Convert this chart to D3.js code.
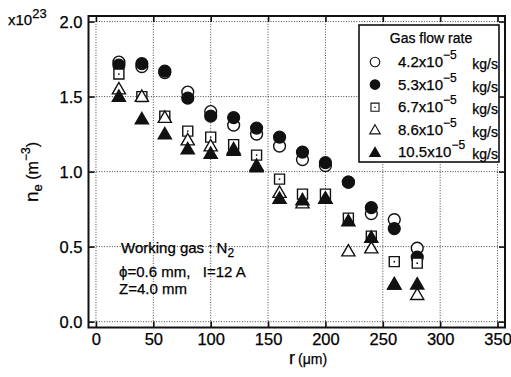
<!DOCTYPE html>
<html><head><meta charset="utf-8">
<script src="https://cdn.jsdelivr.net/npm/d3@7"></script>
<style>body{margin:0;background:#fff}svg{display:block}text{font-family:"Liberation Sans",Arial,sans-serif;fill:#000;stroke:#000;stroke-width:0.25px}</style>
</head><body>
<svg id="c" width="511" height="377"></svg>
<script>
const radius = [20,40,60,80,100,120,140,160,180,200,220,240,260,280];
const s42  = [1.73,1.70,1.66,1.53,1.40,1.31,1.25,1.17,1.08,1.04,0.93,0.72,0.68,0.49];
const s53  = [1.71,1.72,1.67,1.49,1.37,1.36,1.29,1.23,1.13,1.06,0.93,0.76,0.62,0.43];
const s67  = [1.65,1.50,1.37,1.27,1.23,1.18,1.11,0.95,0.85,0.85,0.69,0.57,0.40,0.39];
const s86  = [1.55,1.50,1.36,1.21,1.17,1.15,1.04,0.86,0.79,0.82,0.47,0.49,0.25,0.18];
const s105 = [1.50,1.35,1.25,1.15,1.12,1.14,1.03,0.82,0.81,0.82,0.67,0.56,0.25,0.25];
const seriesNames = ["4.2","5.3","6.7","8.6","10.5"];
const xTicks = [0,50,100,150,200,250,300,350];
const yTicks = [0.0,0.5,1.0,1.5,2.0];

const svg = d3.select("#c");
const L=88.5, R=505, T=16, B=327.5;
const x = d3.scaleLinear().domain([-6.5,356.5]).range([L,R]);
const y = d3.scaleLinear().domain([-0.039,2.037]).range([B,T]);

// grid
const g = svg.append("g");
g.selectAll(".gx").data(xTicks).join("line")
  .attr("x1",d=>x(d)).attr("x2",d=>x(d)).attr("y1",T).attr("y2",B)
  .attr("stroke","#333").attr("stroke-width",0.9).attr("stroke-dasharray","1,1.6");
g.selectAll(".gy").data(yTicks).join("line")
  .attr("y1",d=>y(d)).attr("y2",d=>y(d)).attr("x1",L).attr("x2",R)
  .attr("stroke","#333").attr("stroke-width",0.9).attr("stroke-dasharray","1,1.6");

// axes with inward ticks
const ax = d3.axisBottom(x).tickValues(xTicks).tickSize(-6).tickFormat(d=>d);
const ay = d3.axisLeft(y).tickValues(yTicks).tickSize(-6).tickFormat(d3.format(".1f"));
const gb = svg.append("g").attr("transform",`translate(0,${B})`).call(ax);
const gt = svg.append("g").attr("transform",`translate(0,${T})`).call(d3.axisTop(x).tickValues(xTicks).tickSize(-6).tickFormat(""));
const gl = svg.append("g").attr("transform",`translate(${L},0)`).call(ay);
const gr = svg.append("g").attr("transform",`translate(${R},0)`).call(d3.axisRight(y).tickValues(yTicks).tickSize(-6).tickFormat(""));
[gb,gt,gl,gr].forEach(a=>{a.select(".domain").remove();a.selectAll(".tick line").attr("stroke","#111").attr("stroke-width",1.6);});
gb.selectAll("text").attr("font-size",16.5).attr("dy","0.95em").attr("y",2).attr("fill","#000")
  .style("font-family",'"Liberation Sans",Arial,sans-serif');
gl.selectAll("text").attr("font-size",16.5).attr("x",-6).attr("dy","0.36em").attr("fill","#000")
  .style("font-family",'"Liberation Sans",Arial,sans-serif');
svg.append("rect").attr("x",L).attr("y",T).attr("width",R-L).attr("height",B-T)
  .attr("fill","none").attr("stroke","#111").attr("stroke-width",2);

// data
const all = [s42,s53,s67,s86,s105];
const shapes = [
  {type:d3.symbolCircle,size:110,fill:"#fff"},
  {type:d3.symbolCircle,size:110,fill:"#111"},
  {type:d3.symbolSquare,size:100,fill:"#fff",dot:true},
  {type:d3.symbolTriangle,size:75,fill:"#fff"},
  {type:d3.symbolTriangle,size:75,fill:"#111"}
];
[0,1,2,3,4].forEach(i=>{
  const sh=shapes[i];
  const sg=svg.append("g");
  sg.selectAll("path").data(radius.map((r,k)=>[r,all[i][k]])).join("path")
    .attr("transform",d=>`translate(${x(d[0])},${y(d[1])+(sh.type===d3.symbolTriangle?1:0)})`)
    .attr("d",d3.symbol().type(sh.type).size(sh.size))
    .attr("fill",sh.fill).attr("stroke","#111").attr("stroke-width",1.4);
  if(sh.dot){
    sg.selectAll("circle").data(radius.map((r,k)=>[r,all[i][k]])).join("circle")
      .attr("cx",d=>x(d[0])).attr("cy",d=>y(d[1])).attr("r",0.9).attr("fill","#111");
  }
});

// legend
const lg = svg.append("g");
lg.append("rect").attr("x",359).attr("y",25).attr("width",140).attr("height",137)
  .attr("fill","#fff").attr("stroke","#111").attr("stroke-width",1.6);
lg.append("text").attr("x",431).attr("y",43).attr("text-anchor","middle").attr("font-size",14).text("Gas flow rate");
seriesNames.forEach((n,i)=>{
  const yy = 62 + i*22.6;
  const sh=shapes[i];
  lg.append("path").attr("transform",`translate(375,${yy+(sh.type===d3.symbolTriangle?1:0)})`)
    .attr("d",d3.symbol().type(sh.type).size(sh.size*0.65))
    .attr("fill",sh.fill).attr("stroke","#111").attr("stroke-width",1.1);
  if(sh.dot) lg.append("circle").attr("cx",375).attr("cy",yy).attr("r",0.8).attr("fill","#111");
  const t = lg.append("text").attr("x",398).attr("y",yy+5).attr("font-size",15);
  t.append("tspan").text(n+"x10");
  t.append("tspan").attr("dy",-8).attr("font-size",12).text("\u22125");
  lg.append("text").attr("x",498).attr("y",yy+7).attr("text-anchor","end").attr("font-size",14).text("kg/s");
});

// annotations
const a1 = svg.append("text").attr("x",121).attr("y",253).attr("font-size",15);
a1.append("tspan").text("Working gas : N");
a1.append("tspan").attr("dy",4).attr("font-size",12).text("2");
svg.append("text").attr("x",119).attr("y",277).attr("font-size",15).attr("xml:space","preserve").text("\u03d5=0.6 mm,   I=12 A");
svg.append("text").attr("x",119).attr("y",294).attr("font-size",15).text("Z=4.0 mm");

// axis titles
const xt = svg.append("text").attr("x",289).attr("y",364);
xt.append("tspan").attr("font-size",18).text("r");
xt.append("tspan").attr("font-size",14).attr("dx",3).text("(\u03bcm)");
const yt = svg.append("text").attr("transform","translate(38,172) rotate(-90)").attr("text-anchor","middle");
yt.append("tspan").attr("font-size",19).text("n");
yt.append("tspan").attr("font-size",13).attr("dy",4).text("e");
yt.append("tspan").attr("font-size",16).attr("dy",-4).text(" (m");
yt.append("tspan").attr("font-size",12).attr("dy",-8).text("\u22123");
yt.append("tspan").attr("font-size",16).attr("dy",8).text(")");
const ex = svg.append("text").attr("x",8).attr("y",25);
ex.append("tspan").attr("font-size",15).text("x10");
ex.append("tspan").attr("font-size",13).attr("dy",-7).text("23");
</script>
</body></html>
